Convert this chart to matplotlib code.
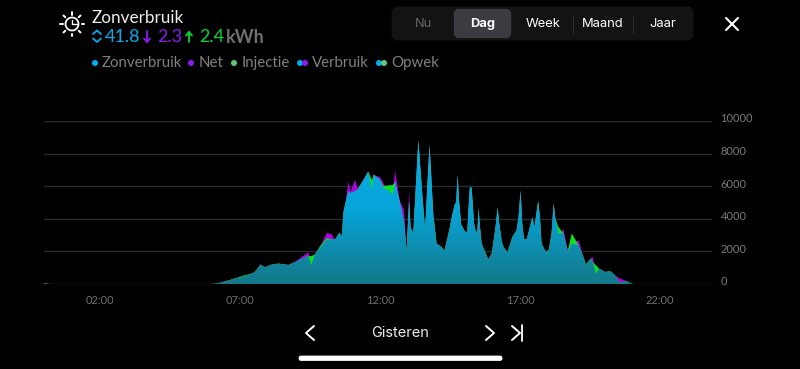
"""Zonverbruik day view, screenshot of the energy app."""
import matplotlib
matplotlib.use("Agg")
import matplotlib.pyplot as plt
import numpy as np
from matplotlib.colors import LinearSegmentedColormap
from matplotlib.patches import Circle, FancyBboxPatch
from matplotlib.transforms import ScaledTranslation

hours = [0.0, 0.1, 0.25, 5.57, 5.93, 6.29, 6.64, 7.12, 7.48, 7.60, 7.73, 7.89, 8.13, 8.37, 8.73, 8.96,
         9.44, 9.54, 9.68, 9.86, 10.10, 10.27, 10.39, 10.55, 10.64, 10.69, 10.77, 10.87, 10.95, 11.11,
         11.20, 11.40, 11.58, 11.71, 11.77, 12.00, 12.12, 12.30, 12.45, 12.54, 12.71, 12.86, 12.95,
         13.04, 13.09, 13.19, 13.37, 13.49, 13.61, 13.77, 13.90, 14.02, 14.20, 14.30, 14.50, 14.55, 14.68,
         14.72, 14.77, 14.83, 14.90, 15.04, 15.12, 15.16, 15.21, 15.27, 15.36, 15.43, 15.48, 15.52, 15.57,
         15.63, 15.87, 15.99, 16.08, 16.14, 16.20, 16.26, 16.35, 16.41,
         16.55, 16.73, 16.88, 16.95, 17.02, 17.08, 17.14, 17.24, 17.44, 17.52, 17.60, 17.65, 17.71, 17.77,
         17.92, 18.03, 18.13, 18.20, 18.26,
         18.37, 18.55, 18.70, 18.85, 19.09, 19.24, 19.36, 19.52, 19.60, 19.71, 19.83, 20.03, 20.24,
         20.39, 20.57, 20.81, 21.05, 23.5]
zon = [60, 30, 0, 0, 0, 82, 246, 471, 676, 881, 1190, 1025, 1190, 1250, 1170, 1335,
       1740, 1150, 1825, 2230, 2700, 2750, 2720, 3150, 2950, 4350, 5000, 5700, 5570, 5700,
       5800, 6350, 6900, 5800, 6700, 6400, 5900, 5750, 5500, 6250, 5000, 3800, 2000,
       5100, 3500, 3100, 8800, 5965, 3300, 8530, 4325, 2480, 2275, 2030, 3500, 3990, 4950,
       4950, 6680, 4950, 3630, 3200, 3200, 4550, 5925, 5925, 3690, 3136, 3300, 4630, 3500,
       2480, 1500, 1865, 2900, 3700, 4695, 3700, 2580, 2275,
       1927, 2890, 3300, 4100, 5720, 3690, 2790, 2726, 4080, 3500, 4500, 5043, 4120, 2480,
       1970, 2070, 3130, 4940, 4020,
       3100, 3100, 1970, 2480, 2380, 1763, 1148, 1558, 1353, 635, 943, 738, 779,
       533, 82, 185, 0, 0]
net = [0, 0, 0, 0, 0, 0, 0, 0, 0, 0, 0, 0, 0, 0, 0, 20,
       210, 0, 0, 60, 430, 300, 0, 0, 0, 0, 0, 570, 100, 675,
       50, 0, 0, 0, 0, 150, 280, 0, 0, 700, 100, 730, 0,
       600, 0, 0, 0, 0, 0, 0, 0, 0, 0, 0, 0, 0, 0,
       0, 0, 0, 0, 0, 0, 0, 0, 0, 0, 0, 0, 0, 0,
       0, 0, 0, 0, 0, 0, 0, 0, 0,
       0, 0, 0, 0, 0, 0, 0, 0, 0, 0, 0, 0, 0, 0,
       0, 0, 0, 0, 100,
       0, 250, 200, 0, 305, 60, 0, 0, 310, 0, 0, 0, 0,
       0, 246, 0, 0, 0]
inj = [0, 0, 0, 0, 0, 0, 0, 40, 0, 0, 0, 0, 0, 0, 0, 0,
       0, 550, 0, 80, 120, 0, 0, 0, 0, 0, 0, 0, 0, 0,
       0, 0, 0, 575, 0, 0, 100, 300, 570, 0, 0, 0, 0,
       0, 0, 0, 0, 0, 0, 0, 0, 0, 0, 0, 0, 0, 0,
       0, 0, 0, 0, 0, 0, 0, 0, 0, 0, 0, 0, 0, 0,
       0, 0, 0, 0, 0, 0, 0, 0, 0,
       0, 0, 0, 0, 0, 0, 0, 0, 0, 0, 0, 60, 0, 0,
       0, 40, 0, 0, 0,
       400, 0, 0, 620, 0, 0, 60, 0, 0, 513, 0, 0, 0,
       0, 0, 0, 0, 0]
x_ticks = [2, 7, 12, 17, 22]
x_labels = ["02:00", "07:00", "12:00", "17:00", "22:00"]
y_ticks = [0, 2000, 4000, 6000, 8000, 10000]
tabs = ["Nu", "Dag", "Week", "Maand", "Jaar"]
legend_names = ["Zonverbruik", "Net", "Injectie", "Verbruik", "Opwek"]

BLUE = "#00aeef"
PURPLE = "#8b1cf0"
GREEN = "#00d93a"
LEG_GREEN = "#5fc97a"
GREY = "#808080"

fig = plt.figure(figsize=(8, 3.69), dpi=100, facecolor="black")
plt.rcParams["font.family"] = ["Lato", "DejaVu Sans"]

# chart area, placed by pixel
ax = fig.add_axes([44 / 800, 1 - 284 / 369, 668 / 800, 163 / 369], facecolor="black")
h = np.array(hours)
z = np.array(zon)
top_net = z + np.array(net)
top_inj = z + np.array(inj)
ax.fill_between(h, 0, top_net, where=top_net > 0, color="#b000e0", lw=0)
ax.fill_between(h, 0, top_inj, where=top_inj > 0, color="#10e020", lw=0)
blue = ax.fill_between(h, 0, z, color="none", lw=0)
cmap = LinearSegmentedColormap.from_list("zon", ["#147888", "#06a4d8", "#06aee8"])
grad = ax.imshow(np.linspace(1, 0, 256).reshape(-1, 1), cmap=cmap, aspect="auto",
                 extent=(0, 24, 0, 9000), zorder=2)
grad.set_clip_path(blue.get_paths()[0], transform=ax.transData)
ax.set_xlim(0, 668 / 28)
ax.set_ylim(0, 10000)
ax.set_xticks(x_ticks)
ax.set_xticklabels(x_labels, color="#6e6e6e", fontsize=8)
ax.set_yticks(y_ticks)
ax.yaxis.tick_right()
ax.set_yticklabels([str(v) for v in y_ticks], color="#7a7a7a", fontsize=8)
ax.tick_params(length=0, pad=6)
ax.tick_params(axis="x", pad=8)
ax.grid(axis="y", color="#2c2c2c", lw=1)
ax.set_axisbelow(True)
for s in ax.spines.values():
    s.set_visible(False)
shift = ScaledTranslation(0, 2.2 / 72, fig.dpi_scale_trans)
for lab in ax.get_yticklabels():
    lab.set_transform(lab.get_transform() + shift)

# overlay in pixel coordinates for the app chrome
ui = fig.add_axes([0, 0, 1, 1], facecolor="none")
ui.set_xlim(0, 800)
ui.set_ylim(369, 0)
ui.axis("off")


def stroke(xs, ys, color="white", lw=1.3):
    ui.plot(xs, ys, color=color, lw=lw, solid_capstyle="round", solid_joinstyle="round")


# sun-clock icon
ui.add_patch(Circle((72, 24), 6.5, fill=False, ec="white", lw=1.3))
stroke([72, 72, 77], [20, 24, 24], lw=1.0)
for a in np.deg2rad(np.arange(0, 360, 45)):
    stroke([72 + 9.5 * np.cos(a), 72 + 12 * np.cos(a)], [24 + 9.5 * np.sin(a), 24 + 12 * np.sin(a)], lw=1.4)

ui.text(92, 18, "Zonverbruik", color="#eeeeee", fontsize=12.3, va="center")

# totals row
stroke([93, 97, 101], [34, 30.5, 34], BLUE)
stroke([93, 97, 101], [38.5, 42, 38.5], BLUE)
ui.text(105, 37.5, "41.8", color=BLUE, fontsize=13, va="center")
stroke([147, 147], [31, 42], PURPLE)
stroke([144, 147, 150], [38.5, 42, 38.5], PURPLE)
ui.text(157, 37.5, "2.3", color=PURPLE, fontsize=13, va="center")
stroke([189, 189], [32, 42], GREEN)
stroke([186, 189, 192], [35.5, 32, 35.5], GREEN)
ui.text(199, 37.5, "2.4", color=GREEN, fontsize=13, va="center")
ui.text(226, 37.5, "kWh", color="#707070", fontsize=13, va="center", fontweight="bold")

# legend row
legend_x = [102, 199, 242, 312, 391]
legend_dots = [[(95, BLUE)], [(191, PURPLE)], [(234, LEG_GREEN)],
               [(300, BLUE), (305, PURPLE)], [(379, BLUE), (384, LEG_GREEN)]]
for name, tx, dots in zip(legend_names, legend_x, legend_dots):
    ui.text(tx, 63, name, color=GREY, fontsize=10.8, va="center")
    for dx, col in dots:
        ui.add_patch(Circle((dx, 63), 3, color=col, lw=0))

# period selector
ui.add_patch(FancyBboxPatch((397, 12), 291, 23, boxstyle="round,pad=0,rounding_size=1",
                            fc="#131313", ec="#131313", lw=8))
ui.add_patch(FancyBboxPatch((458, 13), 49, 21, boxstyle="round,pad=0,rounding_size=1",
                            fc="#3a3c42", ec="#3a3c42", lw=6))
tab_x = [423, 483, 543, 603, 663]
tab_col = ["#666666", "white", "white", "white", "white"]
for name, tx, col in zip(tabs, tab_x, tab_col):
    ui.text(tx, 24, name, color=col, fontsize=9.3, ha="center", va="center", family="Inter",
            fontweight="bold" if name == "Dag" else "normal")
stroke([573, 573], [15, 33], "#2c2c2c", 0.8)
stroke([633, 633], [15, 33], "#2c2c2c", 0.8)

# close
stroke([726, 738], [18, 30], lw=1.5)
stroke([726, 738], [30, 18], lw=1.5)

# date navigation
stroke([314, 306, 314], [326, 333, 340], lw=1.4)
ui.text(400, 333, "Gisteren", color="#eeeeee", fontsize=10.5, ha="center", va="center", family="Inter")
stroke([486, 494, 486], [326, 333, 340], lw=1.4)
stroke([512, 520, 512], [326, 333, 340], lw=1.4)
stroke([522, 522], [325, 341], lw=1.3)

# home indicator
ui.add_patch(FancyBboxPatch((300, 357), 201, 2.5, boxstyle="round,pad=0,rounding_size=1",
                            fc="white", ec="white", lw=2))

fig.savefig("out.png", dpi=100, facecolor="black")
